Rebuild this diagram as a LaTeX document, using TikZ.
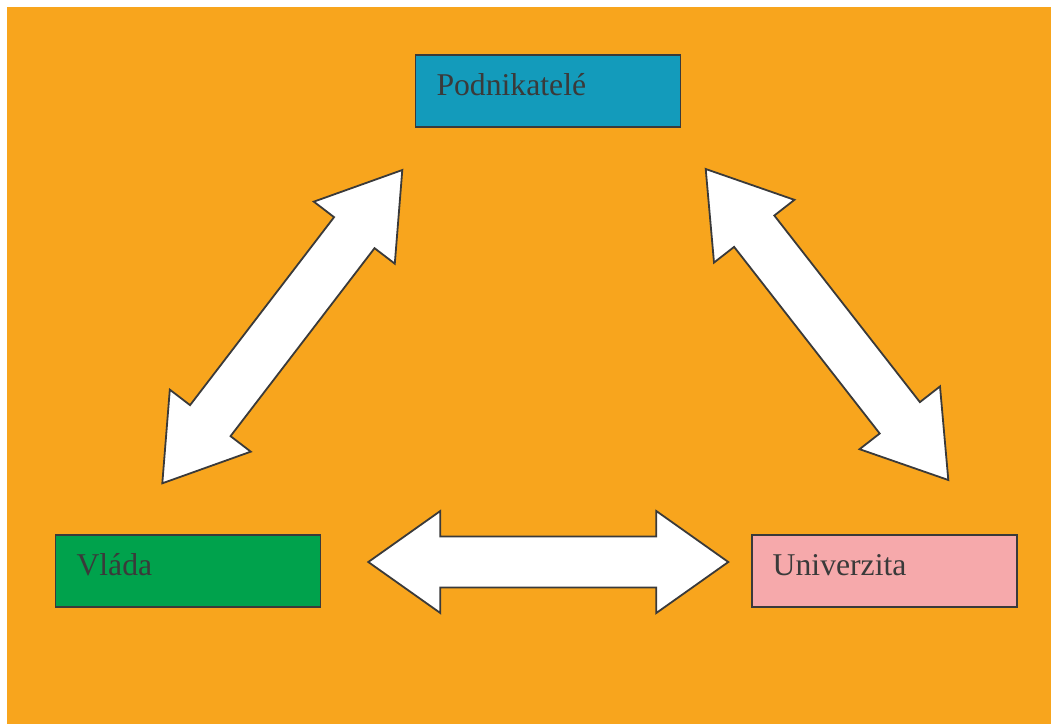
\documentclass[tikz,border=0pt]{standalone}
\usepackage{fontspec}
\setmainfont{Liberation Serif}
\usetikzlibrary{calc}
\definecolor{pozadi}{HTML}{F8A51D}
\definecolor{modra}{HTML}{139BBB}
\definecolor{zelena}{HTML}{00A24C}
\definecolor{ruzova}{HTML}{F6A9AB}
\definecolor{obrys}{HTML}{3A3A3A}
\tikzset{
box/.style={draw=obrys,line width=1.8pt,rectangle,minimum width=265pt,minimum height=72pt,
  inner xsep=21pt,text width=223pt,align=left,text height=22pt,text depth=12.3pt,
  text=obrys,font=\fontsize{31.7}{36}\selectfont},
fatarrow/.style={draw=obrys,line width=1.8pt,fill=white,line join=miter},
}
% tlusta obousmerna sipka mezi dvema body
\newcommand{\tlustasipka}[2]{%
  \draw[fatarrow] (#1)
  -- ($(#1)!.2!(#2)!51pt!90:(#2)$)
  -- ($(#1)!.2!(#2)!25.5pt!90:(#2)$)
  -- ($(#2)!.2!(#1)!25.5pt!-90:(#1)$)
  -- ($(#2)!.2!(#1)!51pt!-90:(#1)$)
  -- (#2)
  -- ($(#2)!.2!(#1)!51pt!90:(#1)$)
  -- ($(#2)!.2!(#1)!25.5pt!90:(#1)$)
  -- ($(#1)!.2!(#2)!25.5pt!-90:(#2)$)
  -- ($(#1)!.2!(#2)!51pt!-90:(#2)$)
  -- cycle;}
\begin{document}
\begin{tikzpicture}[x=1pt,y=-1pt]
        \fill[white] (0,0) rectangle (1051,724);
        \fill[pozadi] (7,7) rectangle (1051,724);

        \node[box,fill=modra] (podnik) at (548,90.85) {Podnikatelé};
        \node[box,fill=zelena] (vlada) at (188,570.85) {Vláda};
        \node[box,fill=ruzova] (univ) at (884.2,571) {Univerzita};

        \coordinate (vp1) at (162.3,483.3);
        \coordinate (vp2) at (402.3,170);
        \coordinate (pu1) at (705.7,169);
        \coordinate (pu2) at (948.3,480);
        \coordinate (vu1) at (368.3,562);
        \coordinate (vu2) at (728.3,562);

        \tlustasipka{vp1}{vp2}
        \tlustasipka{pu1}{pu2}
        \tlustasipka{vu1}{vu2}
    \end{tikzpicture}
\end{document}
